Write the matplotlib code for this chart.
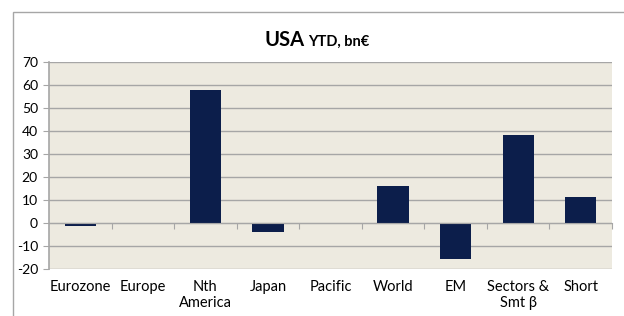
import matplotlib.pyplot as plt
from matplotlib.patches import Rectangle
from matplotlib.transforms import blended_transform_factory

categories = ['Eurozone', 'Europe', 'Nth\nAmerica', 'Japan', 'Pacific',
              'World', 'EM', 'Sectors &\nSmt β', 'Short']
values = [-1.2, 0.0, 57.7, -4.0, 0.0, 16.2, -15.7, 38.4, 11.1]
yticks = [-20, -10, 0, 10, 20, 30, 40, 50, 60, 70]

plt.rcParams['font.family'] = ['Lato', 'DejaVu Sans']

fig = plt.figure(figsize=(6.24, 3.16), dpi=100)
fig.patch.set_facecolor('white')

# cadre extérieur du graphique (coupé à droite et en bas)
fig.patches.append(Rectangle((13 / 624, -0.1), 1.2, (316 - 12) / 316 + 0.1,
                             transform=fig.transFigure, fill=False,
                             edgecolor='#A6A6A6', linewidth=1))

ax = fig.add_axes([49 / 624, 47 / 316, 563 / 624, 207 / 316])
ax.set_facecolor('#EDEAE0')

x = range(len(categories))
ax.bar(x, values, width=0.5, color='#0C1E4B', zorder=3)

ax.set_ylim(-20, 70)
ax.set_xlim(-0.5, len(categories) - 0.5)
ax.set_yticks(yticks)
ax.set_yticklabels([str(v) for v in yticks], fontsize=10)
ax.grid(axis='y', color='#A6A6A6', linewidth=1, zorder=1)
ax.tick_params(axis='y', length=4, color='#A6A6A6', pad=4)

for s in ['top', 'right']:
    ax.spines[s].set_visible(False)
ax.spines['left'].set_color('#A6A6A6')
ax.spines['left'].set_linewidth(1.2)
ax.spines['bottom'].set_position(('data', 0))
ax.spines['bottom'].set_color('#A6A6A6')
ax.spines['bottom'].set_zorder(4)

ax.set_xticks([i + 0.5 for i in range(len(categories))])
ax.set_xticklabels([])
ax.tick_params(axis='x', length=4, color='#A6A6A6', direction='out')

tr = blended_transform_factory(ax.transData, ax.transAxes)
for i, lab in enumerate(categories):
    ax.text(i, -0.055, lab, transform=tr, ha='center', va='top',
            fontsize=10.5, linespacing=1.15)

fig.text(0.488, 0.854, 'USA', fontsize=14.5, fontweight='bold', ha='right',
         va='baseline')
fig.text(0.494, 0.854, 'YTD, bn€', fontsize=10.5, fontweight='bold',
         ha='left', va='baseline')

fig.savefig('out.png', dpi=100)
